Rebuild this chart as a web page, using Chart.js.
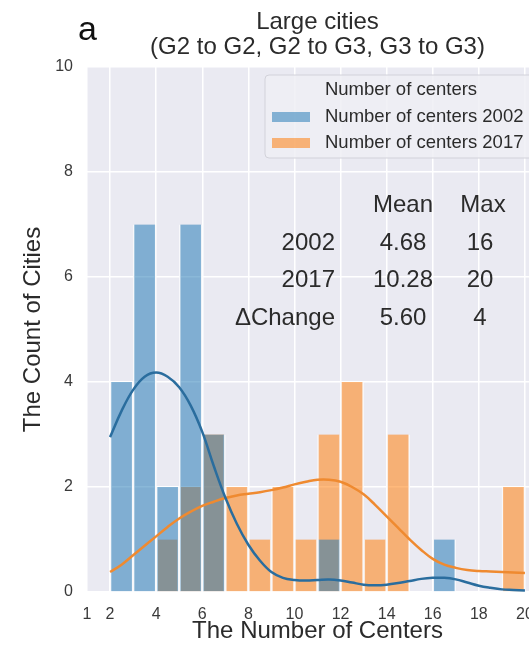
<!DOCTYPE html>
<html>
<head>
<meta charset="utf-8">
<script src="https://cdn.jsdelivr.net/npm/chart.js@4.4.1/dist/chart.umd.min.js"></script>
<style>
  html, body { margin: 0; padding: 0; background: #fff; overflow: hidden; }
  #wrap { width: 570px; height: 650px; }
</style>
</head>
<body>
<div id="wrap"><canvas id="chart" width="570" height="650"></canvas></div>
<script>
// histogram bins (left edge, width 1) and counts per year
const binLeft = [2, 3, 4, 5, 6, 7, 8, 9, 10, 11, 12, 13, 14, 15, 16, 17, 18, 19];
const count2002 = [4, 7, 2, 7, 3, 0, 0, 0, 0, 1, 0, 0, 0, 0, 1, 0, 0, 0];
const count2017 = [0, 0, 1, 2, 3, 2, 1, 2, 1, 3, 4, 1, 3, 0, 0, 0, 0, 2];

// kde curves (already scaled to counts)
const kdeX = [2, 2.5, 3, 3.5, 4, 4.5, 5, 5.5, 6, 6.5, 7, 7.5, 8, 8.5, 9, 9.5, 10, 10.5, 11, 11.5,
              12, 12.5, 13, 13.5, 14, 14.5, 15, 15.5, 16, 16.5, 17, 17.5, 18, 18.5, 19, 19.5, 20];
const kde2002 = [2.95, 3.45, 3.85, 4.1, 4.18, 4.1, 3.9, 3.55, 3.05, 2.4, 1.8, 1.3, 0.9, 0.6, 0.38, 0.27, 0.23, 0.22, 0.23, 0.24,
                 0.22, 0.18, 0.14, 0.13, 0.14, 0.17, 0.21, 0.25, 0.27, 0.27, 0.24, 0.18, 0.12, 0.08, 0.05, 0.04, 0.03];
const kde2017 = [0.38, 0.52, 0.7, 0.88, 1.06, 1.24, 1.4, 1.53, 1.64, 1.72, 1.79, 1.84, 1.87, 1.9, 1.94, 1.99, 2.05, 2.1, 2.14, 2.14,
                 2.1, 2.0, 1.86, 1.66, 1.44, 1.22, 1.0, 0.8, 0.63, 0.52, 0.46, 0.42, 0.4, 0.39, 0.38, 0.37, 0.36];

const xTickVals = [1, 2, 4, 6, 8, 10, 12, 14, 16, 18, 20];

const seriesNames = ['Number of centers 2002', 'Number of centers 2017'];
const legendTitle = 'Number of centers';
const titleLines = ['Large cities', '(G2 to G2, G2 to G3, G3 to G3)'];

const statCols = ['Mean', 'Max'];
const statRows = ['2002', '2017', '\u0394Change'];
const statMean = ['4.68', '10.28', '5.60'];
const statMax = ['16', '20', '4'];

const FONT = '"Liberation Sans", Arial, sans-serif';
const TEXT = '#2b2b2b';
const barBlue = 'rgba(31,119,180,0.52)';
const barOrange = 'rgba(255,127,14,0.55)';

const bars = (counts) => binLeft.map((b, i) => ({ x: b + 0.5, y: counts[i] || null }));
const curve = (ys) => kdeX.map((x, i) => ({ x: x, y: ys[i] }));

const decor = {
  id: 'decor',
  beforeDraw(chart) {
    const { ctx, chartArea: a } = chart;
    ctx.save();
    ctx.fillStyle = '#eaeaf2';
    ctx.fillRect(a.left, a.top, a.right - a.left, a.bottom - a.top);
    ctx.restore();
  },
  afterDraw(chart) {
    const { ctx, chartArea: a } = chart;
    ctx.save();

    // panel letter + title
    ctx.fillStyle = '#111';
    ctx.textBaseline = 'alphabetic';
    ctx.textAlign = 'left';
    ctx.font = '34px ' + FONT;
    ctx.fillText('a', a.left - 9, 40);
    ctx.fillStyle = TEXT;
    ctx.textAlign = 'center';
    ctx.font = '24px ' + FONT;
    const cx = (a.left + a.right) / 2;
    ctx.fillText(titleLines[0], cx, 29);
    ctx.fillText(titleLines[1], cx, 54);

    // legend box
    const lx = a.left + 178, ly = a.top + 8, lw = 272, lh = 83;
    ctx.beginPath();
    ctx.roundRect(lx, ly, lw, lh, 4);
    ctx.fillStyle = 'rgba(238,238,245,0.85)';
    ctx.fill();
    ctx.strokeStyle = '#d2d2da';
    ctx.lineWidth = 1;
    ctx.stroke();
    ctx.fillStyle = TEXT;
    ctx.font = '18.5px ' + FONT;
    ctx.textBaseline = 'middle';
    ctx.fillText(legendTitle, lx + lw / 2, ly + 15);
    ctx.textAlign = 'left';
    [barBlue, barOrange].forEach((c, i) => {
      const yy = ly + 42 + i * 26;
      ctx.fillStyle = c;
      ctx.fillRect(lx + 7, yy - 5, 38, 10);
      ctx.fillStyle = TEXT;
      ctx.fillText(seriesNames[i], lx + 60, yy);
    });

    // stats table
    ctx.font = '24px ' + FONT;
    ctx.fillStyle = TEXT;
    const colMean = a.left + 316, colMax = a.left + 396, rowLab = a.left + 248;
    ctx.textAlign = 'center';
    ctx.fillText(statCols[0], colMean, a.top + 138);
    ctx.fillText(statCols[1], colMax, a.top + 138);
    statRows.forEach((r, i) => {
      const yy = a.top + 176 + i * 37.5;
      ctx.textAlign = 'right';
      ctx.fillText(r, rowLab, yy);
      ctx.textAlign = 'center';
      ctx.fillText(statMean[i], colMean, yy);
      ctx.fillText(statMax[i], colMax - 3, yy);
    });
    ctx.restore();
  }
};

new Chart(document.getElementById('chart'), {
  type: 'bar',
  data: {
    datasets: [
      {
        type: 'line', label: 'kde 2002', data: curve(kde2002), order: 0,
        borderColor: '#2a6d9e', borderWidth: 2.5, pointRadius: 0, tension: 0.4, fill: false
      },
      {
        type: 'line', label: 'kde 2017', data: curve(kde2017), order: 1,
        borderColor: '#ef8a30', borderWidth: 2.5, pointRadius: 0, tension: 0.4, fill: false
      },
      {
        label: seriesNames[0], data: bars(count2002), order: 2, grouped: false,
        backgroundColor: barBlue, borderColor: 'rgba(250,250,252,0.9)',
        borderWidth: { left: 1.5, right: 1.5, top: 0, bottom: 0 },
        barPercentage: 1, categoryPercentage: 1
      },
      {
        label: seriesNames[1], data: bars(count2017), order: 3, grouped: false,
        backgroundColor: barOrange, borderColor: 'rgba(250,250,252,0.9)',
        borderWidth: { left: 1.5, right: 1.5, top: 0, bottom: 0 },
        barPercentage: 1, categoryPercentage: 1
      }
    ]
  },
  options: {
    responsive: false,
    animation: false,
    layout: { padding: { left: 0, top: 67, right: 22, bottom: 0 } },
    plugins: {
      legend: { display: false },
      tooltip: { enabled: false }
    },
    scales: {
      x: {
        type: 'linear', min: 1, max: 21, offset: false,
        afterBuildTicks: (axis) => { axis.ticks = xTickVals.map(v => ({ value: v })); },
        afterFit: (axis) => { axis.height = 58; },
        grid: { color: '#ffffff', lineWidth: 1.5, drawTicks: false, offset: false },
        border: { display: false },
        ticks: { color: '#3a3a3a', padding: 13, autoSkip: false, maxRotation: 0, font: { family: FONT, size: 16 } },
        title: { display: true, text: 'The Number of Centers', color: TEXT, padding: { top: 0 }, font: { family: FONT, size: 24 } }
      },
      y: {
        min: 0, max: 10,
        afterFit: (axis) => { axis.width = 87; },
        grid: { color: '#ffffff', lineWidth: 1.5, drawTicks: false },
        border: { display: false },
        ticks: { stepSize: 2, color: '#3a3a3a', padding: 14, font: { family: FONT, size: 16 } },
        title: { display: true, text: 'The Count of Cities', color: TEXT, padding: { top: 19 }, font: { family: FONT, size: 24 } }
      }
    }
  },
  plugins: [decor]
});
</script>
</body>
</html>
